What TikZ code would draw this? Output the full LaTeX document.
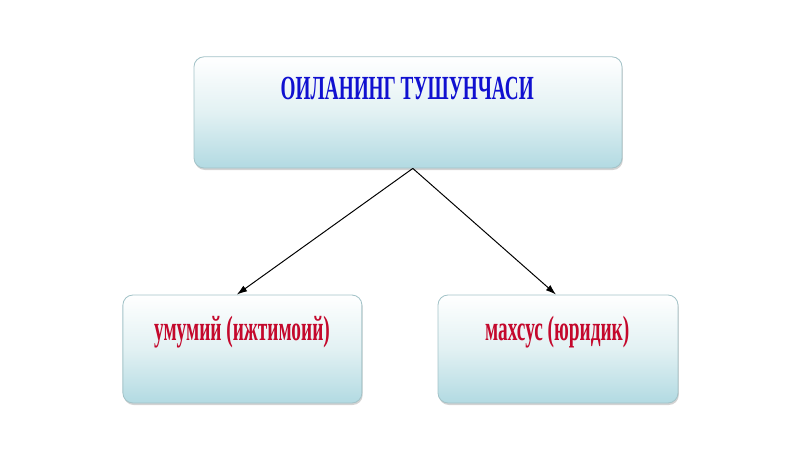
\documentclass[tikz,border=0pt]{standalone}
\usepackage{fontspec}
\setmainfont{Liberation Serif}
\newfontfamily\topfont[FakeStretch=0.57]{Liberation Serif}
\newfontfamily\subfont[FakeStretch=0.55]{Liberation Serif}
\usetikzlibrary{arrows.meta,shadows}
\definecolor{boxline}{HTML}{A3C3C8}
\definecolor{boxblue}{HTML}{B2DAE2}
\definecolor{boxmid}{HTML}{E2F1F3}
\definecolor{titleblue}{HTML}{1010D0}
\definecolor{subred}{HTML}{C4082C}
\tikzset{
  conceptbox/.style={draw=boxline, rounded corners=0.25cm, line width=0.6pt,
    top color=white, bottom color=boxblue, middle color=boxmid,
    drop shadow={shadow xshift=0.02cm, shadow yshift=-0.05cm, opacity=0.35}},
  linkarrow/.style={-{Latex[length=2.6mm,width=1.7mm]}, line width=0.7pt}
}

\begin{document}
\begin{tikzpicture}
        \useasboundingbox (0,0) rectangle (20,-11.225);

        % Top Box: concept
        \node[conceptbox, minimum width=10.7cm, minimum height=2.78cm] (concept) at (10.2,-2.81) {};
        \node[text=titleblue, font=\topfont\bfseries\fontsize{24}{28}\selectfont] (conceptlabel) at (10.18,-2.22) {ОИЛАНИНГ ТУШУНЧАСИ};

        % Left Box: general
        \node[conceptbox, minimum width=5.975cm, minimum height=2.7cm] (general) at (6.06,-8.725) {};
        \node[text=subred, font=\subfont\bfseries\fontsize{25}{28}\selectfont] (generallabel) at (6.05,-8.3) {умумий (ижтимоий)};

        % Right Box: special
        \node[conceptbox, minimum width=6.0cm, minimum height=2.7cm] (special) at (13.95,-8.725) {};
        \node[text=subred, font=\subfont\bfseries\fontsize{25}{28}\selectfont] (speciallabel) at (13.93,-8.3) {махсус (юридик)};

        % Arrows
        \coordinate (fork) at ([xshift=0.12cm]concept.south);
        \draw[linkarrow] (fork) -- ([xshift=-0.14cm]general.north);
        \draw[linkarrow] (fork) -- ([xshift=-0.05cm]special.north);

        \end{tikzpicture}
\end{document}
